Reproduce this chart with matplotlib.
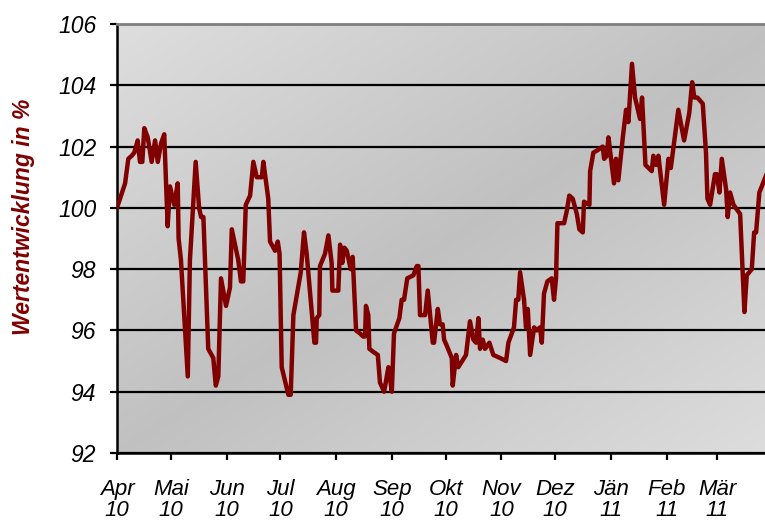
import numpy as np
import pandas as pd
import matplotlib
matplotlib.use("Agg")
import matplotlib.pyplot as plt

# Tage seit 1. April 2010 und Wertentwicklung in %
tage = [0, 4.5, 6.3, 8.2, 9.6, 11.5, 12.8, 14.1, 15.2, 17.1, 19.3, 21.2, 22.7, 24.5,
        26.3, 28.2, 29.5, 31.9, 33.8, 34.3, 35.6, 39.4, 40.6, 43.8, 45.7, 46.8, 48.1,
        50.8, 53.6, 55.0, 56.4, 57.9, 60.7, 62.9, 63.9, 67.5, 69.0, 70.3, 71.7, 74.1,
        75.9, 77.8, 80.6, 81.5, 84.2, 85.2, 88.0, 89.5, 90.5, 91.7, 95.4, 96.7, 98.2,
        102.3, 104.1, 105.6, 109.9, 110.8, 111.2, 112.6, 113.0, 115.8, 117.7, 119.5,
        119.9, 123.2, 124.2, 125.4, 126.6, 127.9, 130.1, 131.2, 133.1, 135.3, 137.1,
        138.1, 138.6, 139.9, 140.5, 142.7, 145.2, 146.4, 148.7, 151.1, 153.0, 154.2,
        157.2, 158.5, 159.8, 161.6, 165.0, 166.9, 167.8, 168.7, 171.5, 173.0, 175.8,
        176.5, 178.6, 179.8, 181.3, 182.1, 183.6, 186.4, 186.9, 188.8, 190.0, 194.3,
        196.5, 198.4, 199.9, 201.2, 202.1, 203.6, 204.9, 207.3, 209.5, 213.3, 216.6,
        217.9, 221.0, 222.2, 223.4, 224.4, 226.6, 227.7, 228.7, 230.0, 232.2, 233.7,
        235.5, 236.5, 237.7, 239.6, 242.0, 243.3, 244.4, 245.2, 248.9, 250.4, 251.8,
        253.7, 256.0, 257.4, 259.3, 260.0, 263.0, 263.4, 265.2, 268.0, 270.4, 271.2,
        272.7, 273.6, 276.7, 277.8, 279.1, 281.6, 283.4, 284.7, 286.7, 288.4, 291.2,
        292.3, 294.2, 297.7, 298.6, 300.1, 301.4, 304.6, 307.0, 308.3, 312.5, 315.7,
        318.6, 320.2, 321.4, 323.1, 326.1, 327.9, 328.7, 330.2, 332.9, 333.9, 335.4,
        336.7, 339.1, 340.0, 341.3, 343.2, 346.9, 349.3, 350.6, 353.4, 354.7, 355.8,
        357.6, 361.0, 364.0]
wert = [100.0, 100.8, 101.6, 101.7, 101.8, 102.2, 101.5, 101.5, 102.6, 102.3, 101.5,
        102.2, 101.5, 102.1, 102.4, 99.4, 100.7, 100.1, 100.8, 99.0, 98.3, 94.5, 98.3,
        101.5, 100.0, 99.7, 99.7, 95.4, 95.1, 94.2, 94.5, 97.7, 96.8, 97.4, 99.3, 98.3,
        97.6, 97.6, 100.1, 100.4, 101.5, 101.0, 101.0, 101.5, 100.3, 98.9, 98.6, 98.9,
        98.5, 94.8, 93.9, 93.9, 96.5, 97.9, 99.2, 98.5, 95.6, 95.6, 96.4, 96.5, 98.1,
        98.5, 99.1, 98.2, 97.3, 97.3, 98.8, 98.2, 98.7, 98.6, 98.0, 98.4, 96.0, 95.9,
        95.8, 95.8, 96.8, 96.5, 95.4, 95.3, 95.2, 94.3, 94.0, 94.8, 94.0, 95.9, 96.4,
        97.0, 97.0, 97.7, 97.8, 98.1, 98.1, 96.5, 96.5, 97.3, 95.6, 95.6, 96.7, 96.2,
        96.2, 95.7, 95.5, 95.1, 94.2, 95.2, 94.8, 95.2, 96.3, 95.7, 95.6, 96.4, 95.4,
        95.7, 95.4, 95.6, 95.2, 95.1, 95.0, 95.6, 96.1, 97.0, 97.0, 97.9, 97.0, 96.1,
        96.7, 95.2, 96.1, 96.0, 96.1, 95.6, 97.2, 97.6, 97.7, 97.0, 97.7, 99.5, 99.5,
        99.9, 100.4, 100.3, 99.8, 99.3, 99.2, 100.2, 100.1, 101.2, 101.8, 101.9, 102.0,
        101.6, 101.7, 102.3, 100.8, 101.6, 100.9, 102.3, 103.2, 102.8, 104.7, 103.6,
        102.9, 103.6, 101.4, 101.2, 101.7, 101.4, 101.7, 100.1, 101.6, 101.3, 103.2,
        102.2, 103.1, 104.1, 103.6, 103.6, 103.4, 101.8, 100.3, 100.1, 101.1, 101.1,
        100.5, 101.6, 100.6, 99.7, 100.5, 100.1, 99.8, 96.6, 97.8, 98.0, 99.2, 99.2,
        100.5, 101.0, 101.5]

monate = ["Apr", "Mai", "Jun", "Jul", "Aug", "Sep", "Okt", "Nov", "Dez", "Jän", "Feb", "Mär"]
jahre = ["10"] * 9 + ["11"] * 3

start = pd.Timestamp("2010-04-01")
datum = start + pd.to_timedelta(tage, unit="D")
monatsanfang = pd.date_range("2010-04-01", periods=12, freq="MS")

plt.rcParams["font.family"] = ["Liberation Sans", "DejaVu Sans"]

fig = plt.figure(figsize=(7.65, 5.27), dpi=100)
# Diagrammfläche läuft rechts über den Bildrand hinaus
ax = fig.add_axes([117 / 765, 74 / 527, 670 / 765, 429 / 527])

# diagonaler Grauverlauf: hell - dunkel - hell
gx, gy = np.meshgrid(np.linspace(0, 1, 300), np.linspace(0, 1, 300))
t = (gx + gy) / 2
hell = 1 - np.abs(t - 0.5) * 2
grau = 0.87 - 0.115 * hell
ax.imshow(np.dstack([grau, grau, grau]), extent=[0, 1, 0, 1], transform=ax.transAxes,
          aspect="auto", zorder=0, interpolation="bilinear")

ax.plot(datum, wert, color="#800000", linewidth=3.2, solid_joinstyle="round", zorder=3)

ax.set_xlim(start, start + pd.Timedelta(days=373))
ax.set_ylim(92, 106)
ax.set_yticks(np.arange(92, 107, 2))
ax.set_xticks(monatsanfang)
ax.set_xticklabels(["%s\n%s" % (m, j) for m, j in zip(monate, jahre)],
                   fontsize=16, fontstyle="italic", linespacing=0.95)
ax.set_yticklabels([str(v) for v in range(92, 107, 2)], fontsize=16.5, fontstyle="italic")
ax.grid(axis="y", color="black", linewidth=1.6, zorder=1)
ax.set_axisbelow(True)

ax.tick_params(axis="y", length=5, width=1.6, pad=10, direction="out")
ax.tick_params(axis="x", length=5, width=1.6, pad=14, direction="out")

for side in ["left", "bottom"]:
    ax.spines[side].set_linewidth(1.8)
    ax.spines[side].set_color("black")
ax.spines["top"].set_color("#808080")
ax.spines["top"].set_linewidth(2)
ax.spines["right"].set_visible(False)

fig.text(24 / 765, 1 - 217 / 527, "Wertentwicklung in %", rotation=90, color="#800000",
         fontsize=16.5, fontweight="bold", fontstyle="italic", ha="center", va="center")

fig.savefig("out.png", dpi=100)
